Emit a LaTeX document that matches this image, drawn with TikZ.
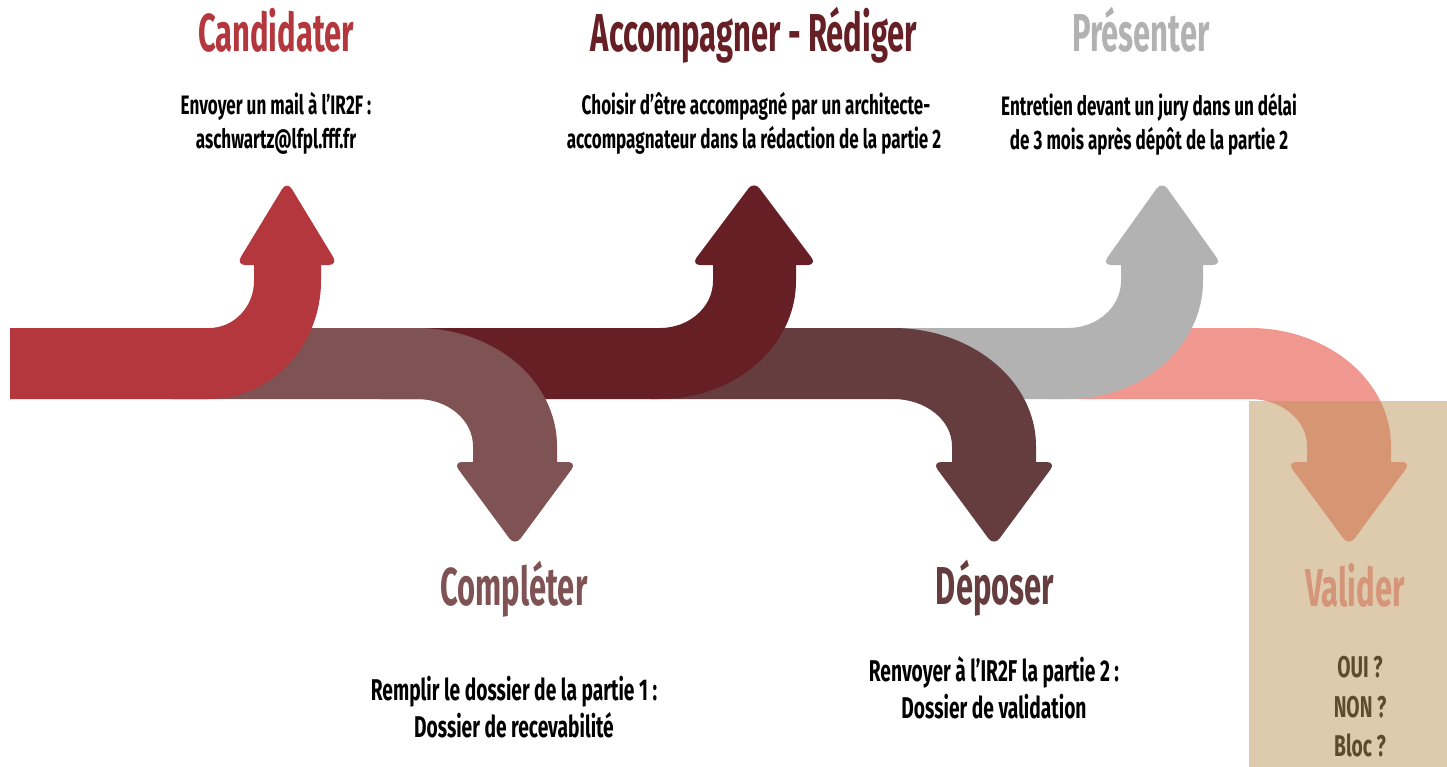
\documentclass[tikz,border=0pt]{standalone}
\usepackage{fontspec}
\newfontfamily\tfont{Fira Sans}[FakeStretch=0.58]
\newfontfamily\bfont{Fira Sans}[FakeStretch=0.64]
\definecolor{cRed}{HTML}{B3373D}
\definecolor{cBrown}{HTML}{7F5254}
\definecolor{cDarkRed}{HTML}{662025}
\definecolor{cDarkBrown}{HTML}{663D3F}
\definecolor{cGray}{HTML}{B2B2B2}
\definecolor{cPink}{HTML}{F0988F}
\definecolor{cPinkText}{HTML}{EF9799}
\definecolor{cBeige}{HTML}{BD955B}
% up arrow: color, xs, xc, rin, w, cx, hw
\newcommand{\myUpArrow}[7]{%
  \fill[#1] (#2,328) -- (#3,328)
    .. controls ({#3+0.552*#4},328) and ({#3+#4},{281+0.552*47}) .. ({#3+#4},281)
    -- ({#3+#4},260) -- ({#3+#4+#5},260) -- ({#3+#4+#5},281)
    .. controls ({#3+#4+#5},{281+0.552*118}) and ({#3+0.552*(#4+#5)},399) .. (#3,399)
    -- (#2,399) -- cycle;
  \fill[#1,rounded corners=7] ({#6-#7},265) -- (#6,181) -- ({#6+#7},265) -- cycle;
}
% down arrow: color, xs, xc, rin, w, cx, hw
\newcommand{\myDownArrow}[7]{%
  \fill[#1] (#2,328) -- (#3,328)
    .. controls ({#3+0.552*(#4+#5)},328) and ({#3+#4+#5},{446-0.552*118}) .. ({#3+#4+#5},446)
    -- ({#3+#4+#5},467) -- ({#3+#4},467) -- ({#3+#4},446)
    .. controls ({#3+#4},{446-0.552*47}) and ({#3+0.552*#4},399) .. (#3,399)
    -- (#2,399) -- cycle;
  \fill[#1,rounded corners=7] ({#6-#7},462) -- (#6,546) -- ({#6+#7},462) -- cycle;
}
\tikzset{
  titletxt/.style={anchor=base,inner sep=0pt,font=\tfont\bfseries\fontsize{40}{40}\selectfont},
  bodytxt/.style={anchor=base,inner sep=0pt,font=\bfont\bfseries\fontsize{20}{20}\selectfont,text=black},
  bodybig/.style={anchor=base,inner sep=0pt,font=\bfont\bfseries\fontsize{22.5}{22.5}\selectfont,text=black}
}
\begin{document}
\begin{tikzpicture}[x=0.75pt,y=-0.75pt]
\useasboundingbox (0,0) rectangle (1447,767);
% arrows, bottom to top
\myDownArrow{cPink}{1050}{1250}{57}{84}{1349}{62}
\myUpArrow{cGray}{888}{1068}{53}{82}{1162}{60}
\myDownArrow{cDarkBrown}{650}{893}{59}{84}{994}{62}
\myUpArrow{cDarkRed}{380}{660}{53}{83}{754}{63}
\myDownArrow{cBrown}{172}{417}{56}{84}{515}{62}
\myUpArrow{cRed}{10}{209}{45}{67}{287}{51}
% titles
\node[titletxt,text=cRed] (t1) at (276,52) {Candidater};
\node[titletxt,text=cDarkRed] (t2) at (754,52) {Accompagner - Rédiger};
\node[titletxt,text=cGray] (t3) at (1141,52) {Présenter};
\node[titletxt,text=cBrown] (t4) at (514,605) {Compléter};
\node[titletxt,text=cDarkBrown] (t5) at (995,604) {Déposer};
\node[titletxt,text=cPinkText] (t6) at (1355,606) {Valider};
% body texts
\node[bodytxt] (b1a) at (276,114) {Envoyer un mail à l’IR2F :};
\node[bodytxt] (b1b) at (276,148) {aschwartz@lfpl.fff.fr};
\node[bodytxt] (b2a) at (756,114) {Choisir d’être accompagné par un architecte-};
\node[bodytxt] (b2b) at (754,148) {accompagnateur dans la rédaction de la partie 2};
\node[bodytxt] (b3a) at (1149,116) {Entretien devant un jury dans un délai};
\node[bodytxt] (b3b) at (1149,150) {de 3 mois après dépôt de la partie 2};
\node[bodybig] (b4a) at (514,700) {Remplir le dossier de la partie 1 :};
\node[bodybig] (b4b) at (514,737) {Dossier de recevabilité};
\node[bodybig] (b5a) at (994,681) {Renvoyer à l’IR2F la partie 2 :};
\node[bodybig] (b5b) at (994,718) {Dossier de validation};
\node[bodybig] (b6a) at (1360,677) {OUI ?};
\node[bodybig] (b6b) at (1360,717) {NON ?};
\node[bodybig] (b6c) at (1360,756) {Bloc ?};
% beige overlay
\fill[cBeige,fill opacity=0.5] (1249,401) rectangle (1447,767);
\end{tikzpicture}
\end{document}
